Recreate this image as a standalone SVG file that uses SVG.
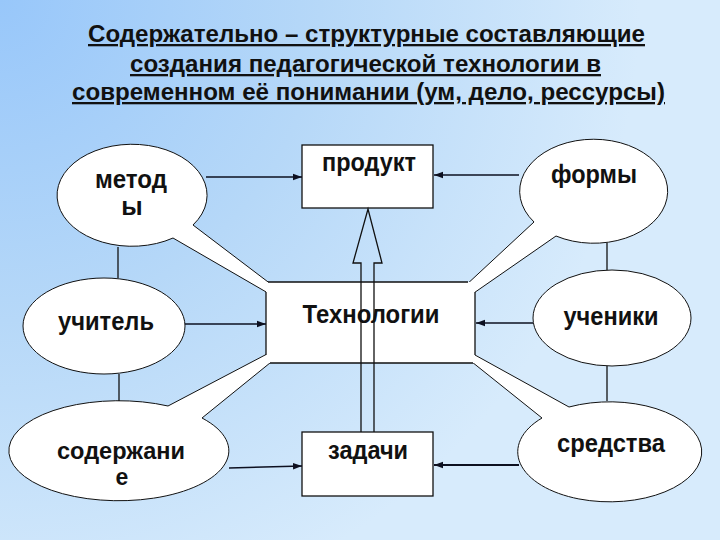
<svg xmlns="http://www.w3.org/2000/svg" width="720" height="540" viewBox="0 0 720 540">
<defs>
<radialGradient id="bg" gradientUnits="userSpaceOnUse" cx="0" cy="0" r="640">
<stop offset="0" stop-color="#98c7fa"/>
<stop offset="0.5" stop-color="#b6d8f8"/>
<stop offset="1" stop-color="#d7ebfc"/>
</radialGradient>
<marker id="ah" markerUnits="userSpaceOnUse" markerWidth="10" markerHeight="8" refX="9" refY="4" orient="auto">
<path d="M0,0.8 L9,4 L0,7.2 Z" fill="#0d1020"/>
</marker>
</defs>
<style>
.t{font-family:"Liberation Sans",Arial,sans-serif;font-weight:bold;fill:#111;}
.ttl{font-size:23px;text-decoration:underline;}
.lbl{font-size:25px;text-anchor:middle;}
.sm{font-size:23px;}
.shape{fill:#fff;stroke:#111;stroke-width:1;}
.box{fill:#fff;stroke:#111;stroke-width:1.3;}
.ln{stroke:#111;stroke-width:1.3;fill:none;}
.arr{stroke:#0d1020;stroke-width:1.5;fill:none;marker-end:url(#ah);}
</style>
<rect width="720" height="540" fill="url(#bg)"/>
<g id="title">
<text class="t ttl" x="88" y="42" textLength="557" lengthAdjust="spacingAndGlyphs">Содержательно – структурные составляющие</text>
<text class="t ttl" x="130" y="72" textLength="471" lengthAdjust="spacingAndGlyphs">создания педагогической технологии в</text>
<text class="t ttl" x="72" y="100" textLength="593" lengthAdjust="spacingAndGlyphs">современном её понимании (ум, дело, рессурсы)</text>
</g>
<g id="node-metody">
<path class="shape" d="M193,225 A75,51 0 1 0 173,238 L330,329 Z"/>
<text class="t lbl" x="131" y="188" textLength="72" lengthAdjust="spacingAndGlyphs">метод</text>
<text class="t lbl" x="132" y="215">ы</text>
</g>
<g id="node-formy">
<path class="shape" d="M534,222 A74,52 0 1 1 556,236 L409,338 Z"/>
<text class="t lbl" x="594" y="183" textLength="86" lengthAdjust="spacingAndGlyphs">формы</text>
</g>
<g id="node-sredstva">
<path class="shape" d="M569,407 A92,50 0 1 1 542,418 L437,334 Z"/>
<text class="t lbl" x="611" y="452" textLength="108" lengthAdjust="spacingAndGlyphs">средства</text>
</g>
<g id="node-soderzhanie">
<path class="shape" d="M168,406 A110,50 0 1 0 202,418 L307,333 Z"/>
<text class="t lbl sm" x="121" y="459" textLength="128" lengthAdjust="spacingAndGlyphs">содержани</text>
<text class="t lbl sm" x="122" y="485">е</text>
</g>
<g id="node-uchitel">
<ellipse class="shape" cx="104" cy="326" rx="81" ry="48"/>
<text class="t lbl" x="106" y="330" textLength="96" lengthAdjust="spacingAndGlyphs">учитель</text>
</g>
<g id="node-ucheniki">
<ellipse class="shape" cx="612" cy="318" rx="79" ry="48"/>
<text class="t lbl" x="611" y="325" textLength="95" lengthAdjust="spacingAndGlyphs">ученики</text>
</g>
<g id="node-produkt">
<rect class="box" x="302" y="145" width="131" height="63"/>
<text class="t lbl" x="369" y="171" textLength="94" lengthAdjust="spacingAndGlyphs">продукт</text>
</g>
<g id="node-zadachi">
<rect class="box" x="302" y="432" width="131" height="64"/>
<text class="t lbl" x="368" y="459" textLength="80" lengthAdjust="spacingAndGlyphs">задачи</text>
</g>
<g id="node-tehnologii">
<rect x="266" y="282" width="209" height="81" fill="#fff"/>
<path class="ln" d="M268,282 H468 M475,292 V355 M473,363 H270 M266,355 V292"/>
<text class="t lbl" x="371" y="323" textLength="137" lengthAdjust="spacingAndGlyphs">Технологии</text>
</g>
<g id="connectors">
<line class="ln" x1="118" y1="247" x2="118" y2="278"/>
<line class="ln" x1="119" y1="374" x2="119" y2="401"/>
<line class="ln" x1="607" y1="243" x2="607" y2="270"/>
<line class="ln" x1="607" y1="366" x2="607" y2="401"/>
<line class="arr" x1="206" y1="177" x2="302" y2="177"/>
<line class="arr" x1="519" y1="175" x2="434" y2="175"/>
<line class="arr" x1="185" y1="324" x2="266" y2="324"/>
<line class="arr" x1="533" y1="323" x2="476" y2="323"/>
<line class="arr" x1="229" y1="468" x2="302" y2="466"/>
<line class="arr" style="stroke-width:2.2" x1="519" y1="465" x2="434" y2="465"/>
<polyline class="ln" points="361,432 361,263 353,263 368,209 382,263 374,263 374,432"/>
</g>
</svg>
